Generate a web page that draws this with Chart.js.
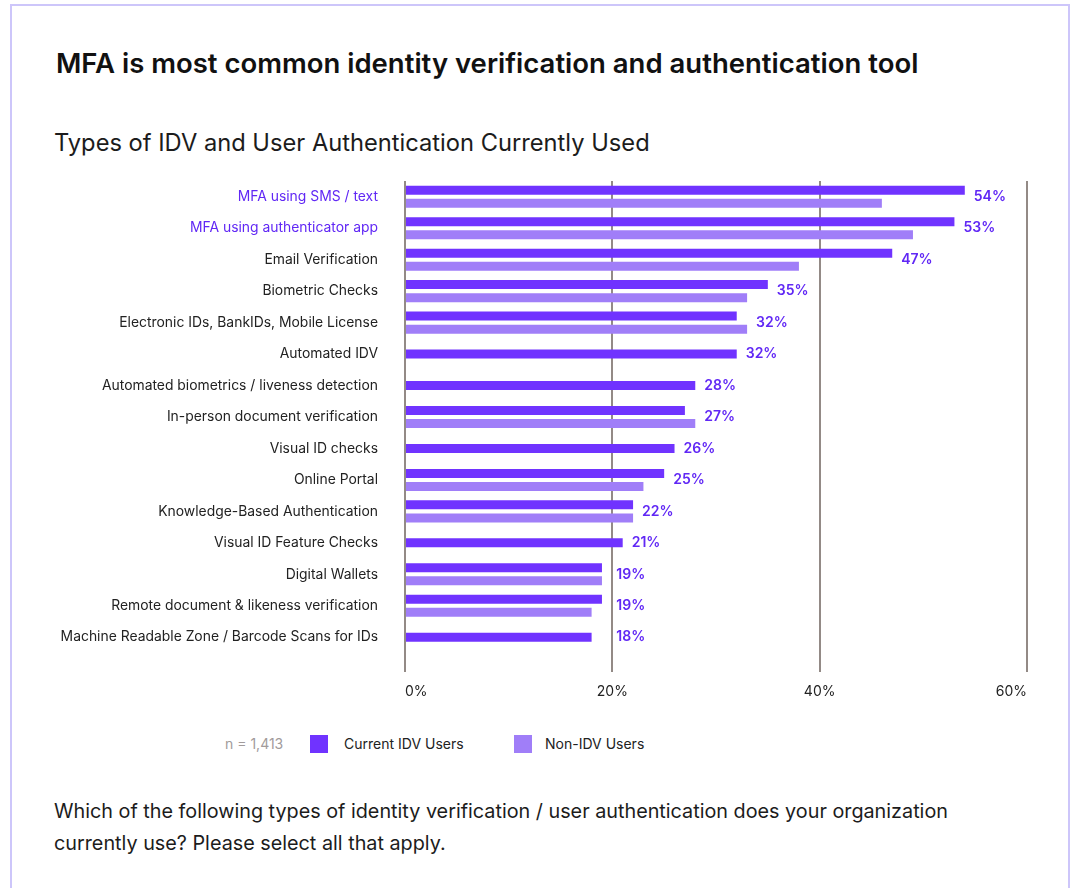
<!DOCTYPE html>
<html>
<head>
<meta charset="utf-8">
<script src="https://cdn.jsdelivr.net/npm/chart.js@4/dist/chart.umd.min.js"></script>
<style>
  html, body { margin: 0; padding: 0; background: #fff; }
  body { width: 1076px; height: 888px; position: relative; overflow: hidden; font-family: Inter, Lato, sans-serif; color: #1c1c1c; }
  .card { position: absolute; left: 10px; top: 4px; width: 1060px; height: 900px; border: 2px solid #cdc6fa; box-sizing: border-box; }
  .title { position: absolute; left: 56px; top: 46px; font-size: 27.5px; font-weight: 600; color: #111; white-space: nowrap; }
  .subtitle { position: absolute; left: 54px; top: 128px; font-size: 23.7px; color: #1c1c1c; white-space: nowrap; }
  .chart-box { position: absolute; left: 0; top: 160px; width: 1076px; height: 543px; }
  .legend { position: absolute; top: 735px; left: 0; font-size: 14px; color: #222; }
  .legend span { position: absolute; white-space: nowrap; line-height: 18px; }
  .legend .sw { width: 18px; height: 18px; }
  .question { position: absolute; left: 54px; top: 795px; width: 980px; font-size: 19.8px; line-height: 32px; color: #1c1c1c; }
</style>
</head>
<body>
<div class="card"></div>
<div class="title">MFA is most common identity verification and authentication tool</div>
<div class="subtitle">Types of IDV and User Authentication Currently Used</div>
<div class="chart-box"><canvas id="idvChart"></canvas></div>
<div class="legend">
  <span style="left:225px;color:#a19b9b">n = 1,413</span>
  <span class="sw" style="left:310px;background:#7033ff"></span>
  <span style="left:344px">Current IDV Users</span>
  <span class="sw" style="left:514px;background:#a07ef8"></span>
  <span style="left:545px">Non-IDV Users</span>
</div>
<div class="question">Which of the following types of identity verification / user authentication does your organization<br>currently use? Please select all that apply.</div>

<script>
// categories and survey values (% of respondents)
var categories = [
  'MFA using SMS / text',
  'MFA using authenticator app',
  'Email Verification',
  'Biometric Checks',
  'Electronic IDs, BankIDs, Mobile License',
  'Automated IDV',
  'Automated biometrics / liveness detection',
  'In-person document verification',
  'Visual ID checks',
  'Online Portal',
  'Knowledge-Based Authentication',
  'Visual ID Feature Checks',
  'Digital Wallets',
  'Remote document & likeness verification',
  'Machine Readable Zone / Barcode Scans for IDs'
];
var idvUsers = [54, 53, 47, 35, 32, 32, 28, 27, 26, 25, 22, 21, 19, 19, 18];
var nonIdvUsers = [46, 49, 38, 33, 33, null, null, 28, null, 23, 22, null, 19, 18, null];
var xTicks = [0, 20, 40, 60];

var purple = '#7033ff';
var lavender = '#a07ef8';
var fontFamily = 'Inter, Lato, sans-serif';

// value labels after the bars of each category, kept off the grid lines
var barLabels = {
  id: 'barLabels',
  afterDatasetsDraw: function(chart) {
    var ctx = chart.ctx;
    var a = chart.getDatasetMeta(0).data;
    var b = chart.getDatasetMeta(1).data;
    var xScale = chart.scales.x;
    var yScale = chart.scales.y;
    ctx.save();
    ctx.font = '600 14px ' + fontFamily;
    ctx.fillStyle = '#6128f5';
    ctx.textAlign = 'left';
    ctx.textBaseline = 'middle';
    for (var i = 0; i < idvUsers.length; i++) {
      var text = idvUsers[i] + '%';
      var end = a[i].x;
      if (nonIdvUsers[i] != null) end = Math.max(end, b[i].x);
      var x = end + 9;
      var w = ctx.measureText(text).width;
      xTicks.forEach(function(t) {
        var gx = xScale.getPixelForValue(t);
        if (x < gx + 4 && x + w > gx) x = gx + 4;
      });
      ctx.fillText(text, x, yScale.getPixelForValue(i));
    }
    ctx.restore();
  }
};

new Chart(document.getElementById('idvChart'), {
  type: 'bar',
  data: {
    labels: categories,
    datasets: [
      { label: 'Current IDV Users', data: idvUsers, backgroundColor: purple },
      { label: 'Non-IDV Users', data: nonIdvUsers, backgroundColor: lavender }
    ]
  },
  options: {
    indexAxis: 'y',
    responsive: true,
    maintainAspectRatio: false,
    animation: false,
    skipNull: true,
    categoryPercentage: 0.83,
    barPercentage: 0.7,
    maxBarThickness: 9,
    layout: { padding: { top: 21, right: 49, bottom: 0, left: 0 } },
    plugins: {
      legend: { display: false },
      tooltip: { enabled: false }
    },
    scales: {
      x: {
        min: 0,
        max: 60,
        afterBuildTicks: function(s) { s.ticks = xTicks.map(function(v) { return { value: v }; }); },
        afterFit: function(s) { s.height = 50; },
        border: { display: false },
        grid: { color: '#938a86', lineWidth: 2, tickLength: 19 },
        ticks: {
          align: 'inner',
          padding: 11,
          color: '#222',
          font: { family: fontFamily, size: 14 },
          callback: function(v) { return v + '%'; }
        }
      },
      y: {
        afterFit: function(s) { s.width = 405; s.paddingTop = 0; s.paddingBottom = 0; },
        border: { display: false },
        grid: { display: false, drawTicks: false },
        ticks: {
          padding: 27,
          autoSkip: false,
          font: { family: fontFamily, size: 13.9 },
          color: function(c) { return c.index < 2 ? '#6128f5' : '#222'; }
        }
      }
    }
  },
  plugins: [barLabels]
});
</script>
</body>
</html>
